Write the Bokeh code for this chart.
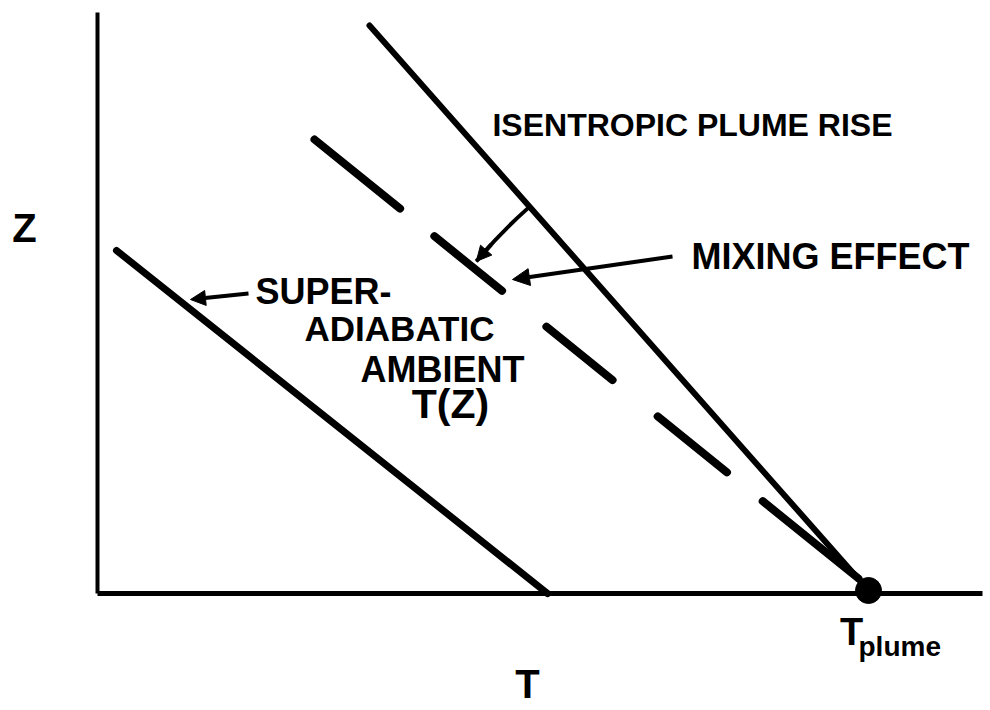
import numpy as np
from bokeh.plotting import figure
from bokeh.models import Range1d, Arrow, NormalHead
from bokeh.core.properties import value
from bokeh.embed import file_html
from bokeh.resources import INLINE

# ---- data (schematic units: T to the right, Z upward) ----
axis_T_end = 885
axis_Z_end = 581
t_plume = 771

isentropic_T = [272, 771]
isentropic_Z = [568, 3]

mixing_T = [217, 761]
mixing_Z = [454, 15]

ambient_T = [19, 450]
ambient_Z = [343, 0]

# arc showing the mixing effect (centred on the plume point)
arc_center = (771, 3)
arc_radius = 512
arc_deg = [131.6, 140.0]

# pointer arrows: (start T, start Z, end T, end Z)
mixing_arrow = [575, 337, 415, 314]
super_arrow = [151, 300, 93, 294]

# labels: text, T, Z (baseline), size(px), align
labels = [
    ("ISENTROPIC PLUME RISE", 595, 456, 32, "center"),
    ("MIXING EFFECT", 733, 323, 36, "center"),
    ("SUPER-", 226, 288, 36, "center"),
    ("ADIABATIC", 302, 251, 35, "center"),
    ("AMBIENT", 345, 210, 36, "center"),
    ("T(Z)", 353, 173, 41, "center"),
    ("Z", -73, 350, 40, "center"),
    ("T", 430, -106, 40, "center"),
    ("T", 754, -54, 38, "center"),
]
sub_label = ("plume", 761, -64, 28, "left")

FONT = value("Liberation Sans")
INK = "#000000"

p = figure(width=990, height=710,
           x_range=Range1d(-97, 893), y_range=Range1d(-117, 593),
           toolbar_location=None, output_backend="svg",
           x_axis_location=None, y_axis_location=None,
           min_border=0)
p.grid.visible = False
p.outline_line_color = None
p.background_fill_color = "white"
p.border_fill_color = "white"

# axes drawn as plain lines
p.line([0, 0], [0, axis_Z_end], line_color=INK, line_width=4)
p.line([0, axis_T_end], [0, 0], line_color=INK, line_width=5)

# curves
p.line(isentropic_T, isentropic_Z, line_color=INK, line_width=6, line_cap="round")
p.line(ambient_T, ambient_Z, line_color=INK, line_width=7, line_cap="round")
p.line(mixing_T, mixing_Z, line_color=INK, line_width=8, line_cap="round",
       line_dash="110 44 87 57 85 58 89 46 400")

# plume point
p.scatter([t_plume], [3], size=26, color=INK)

# arc with arrow
cx, cy = arc_center
a0, a1 = np.radians(arc_deg[0]), np.radians(arc_deg[1])
p.arc(x=[cx], y=[cy], radius=arc_radius, start_angle=a0, end_angle=a1,
      direction="anticlock", line_color=INK, line_width=4)
ab = np.radians(arc_deg[1] - 2.5)
p.add_layout(Arrow(end=NormalHead(size=15, fill_color=INK, line_color=INK),
                   x_start=cx + arc_radius * np.cos(ab), y_start=cy + arc_radius * np.sin(ab),
                   x_end=cx + arc_radius * np.cos(a1), y_end=cy + arc_radius * np.sin(a1),
                   line_color=INK, line_width=4))

for arr, hs in ((mixing_arrow, 17), (super_arrow, 15)):
    p.add_layout(Arrow(end=NormalHead(size=hs, fill_color=INK, line_color=INK),
                       x_start=arr[0], y_start=arr[1], x_end=arr[2], y_end=arr[3],
                       line_color=INK, line_width=4))

# the renderer places "alphabetic" text ~0.4 em low; compensate
for txt, tx, tz, fs, al in labels + [sub_label]:
    p.text(x=[tx], y=[tz + 0.4 * fs], text=[txt], text_font=FONT, text_font_style="bold",
           text_font_size=f"{fs}px", text_align=al, text_baseline="alphabetic",
           text_color=INK)

open("out.html", "w").write(file_html(p, INLINE))
